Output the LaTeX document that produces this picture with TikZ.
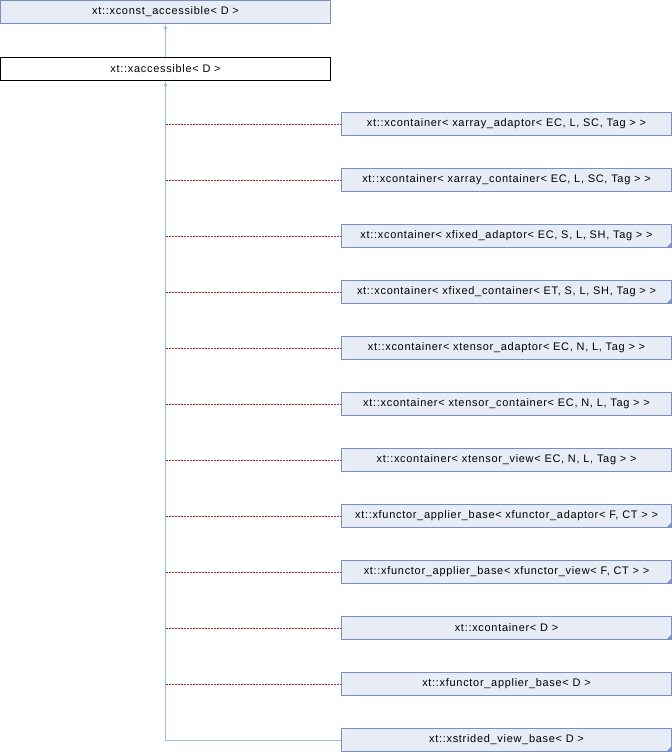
\documentclass[tikz,border=0pt]{standalone}
\usepackage{fontspec}
\setmainfont{Liberation Sans}[LetterSpace=6.5]
\usetikzlibrary{arrows.meta}
\definecolor{boxfill}{HTML}{E8ECF5}
\definecolor{boxline}{HTML}{7890C8}
\definecolor{inhline}{HTML}{90C2E4}
\definecolor{tmplline}{HTML}{B82222}
\tikzset{
  cls/.style={draw=boxline, fill=boxfill, line width=1bp, minimum height=23bp,
    inner sep=0pt, font=\fontsize{11}{13}\selectfont},
  curcls/.style={cls, draw=black, fill=white},
  trunc/.style={path picture={\fill[boxline] (path picture bounding box.south east)
    -- ++(-5bp,0) -- ++(5bp,5bp) -- cycle;}},
  inh/.style={draw=inhline, line width=1bp},
  tmpl/.style={color=tmplline, line width=1bp, dash pattern=on 2bp off 1bp},
}
\begin{document}
\begin{tikzpicture}[x=1bp,y=1bp,>={Latex[length=5bp,width=4bp]}]
\useasboundingbox (0,0) rectangle (672,-752);
% base classes
\node[cls, minimum width=330bp] (cacc) at (165.5,-12) {xt::xconst\_accessible< D >};
\node[curcls, minimum width=330bp] (acc) at (165.5,-69) {xt::xaccessible< D >};
\draw[inh,<-] (cacc) -- (acc);
% derived classes
\foreach \nm/\txt/\tr [count=\i from 0] in {
  d1/{xt::xcontainer< xarray\_adaptor< EC, L, SC, Tag > >}/,
  d2/{xt::xcontainer< xarray\_container< EC, L, SC, Tag > >}/,
  d3/{xt::xcontainer< xfixed\_adaptor< EC, S, L, SH, Tag > >}/trunc,
  d4/{xt::xcontainer< xfixed\_container< ET, S, L, SH, Tag > >}/trunc,
  d5/{xt::xcontainer< xtensor\_adaptor< EC, N, L, Tag > >}/,
  d6/{xt::xcontainer< xtensor\_container< EC, N, L, Tag > >}/,
  d7/{xt::xcontainer< xtensor\_view< EC, N, L, Tag > >}/,
  d8/{xt::xfunctor\_applier\_base< xfunctor\_adaptor< F, CT > >}/trunc,
  d9/{xt::xfunctor\_applier\_base< xfunctor\_view< F, CT > >}/trunc,
  d10/{xt::xcontainer< D >}/trunc,
  d11/{xt::xfunctor\_applier\_base< D >}/}
{
  \node[cls, \tr, minimum width=330bp] (\nm) at (506.5,-124-56*\i) {\txt};
  \coordinate (j\nm) at (165.5,-124.5-56*\i);
  \draw[tmpl] (j\nm) -- (j\nm -| \nm.west);
}
\node[cls, trunc, minimum width=330bp] (d12) at (506.5,-740) {xt::xstrided\_view\_base< D >};
\coordinate (jd12) at (165.5,-740.5);
\draw[inh,->] (jd12 -| d12.west) -- (jd12) -- (acc.south);
\end{tikzpicture}
\end{document}
